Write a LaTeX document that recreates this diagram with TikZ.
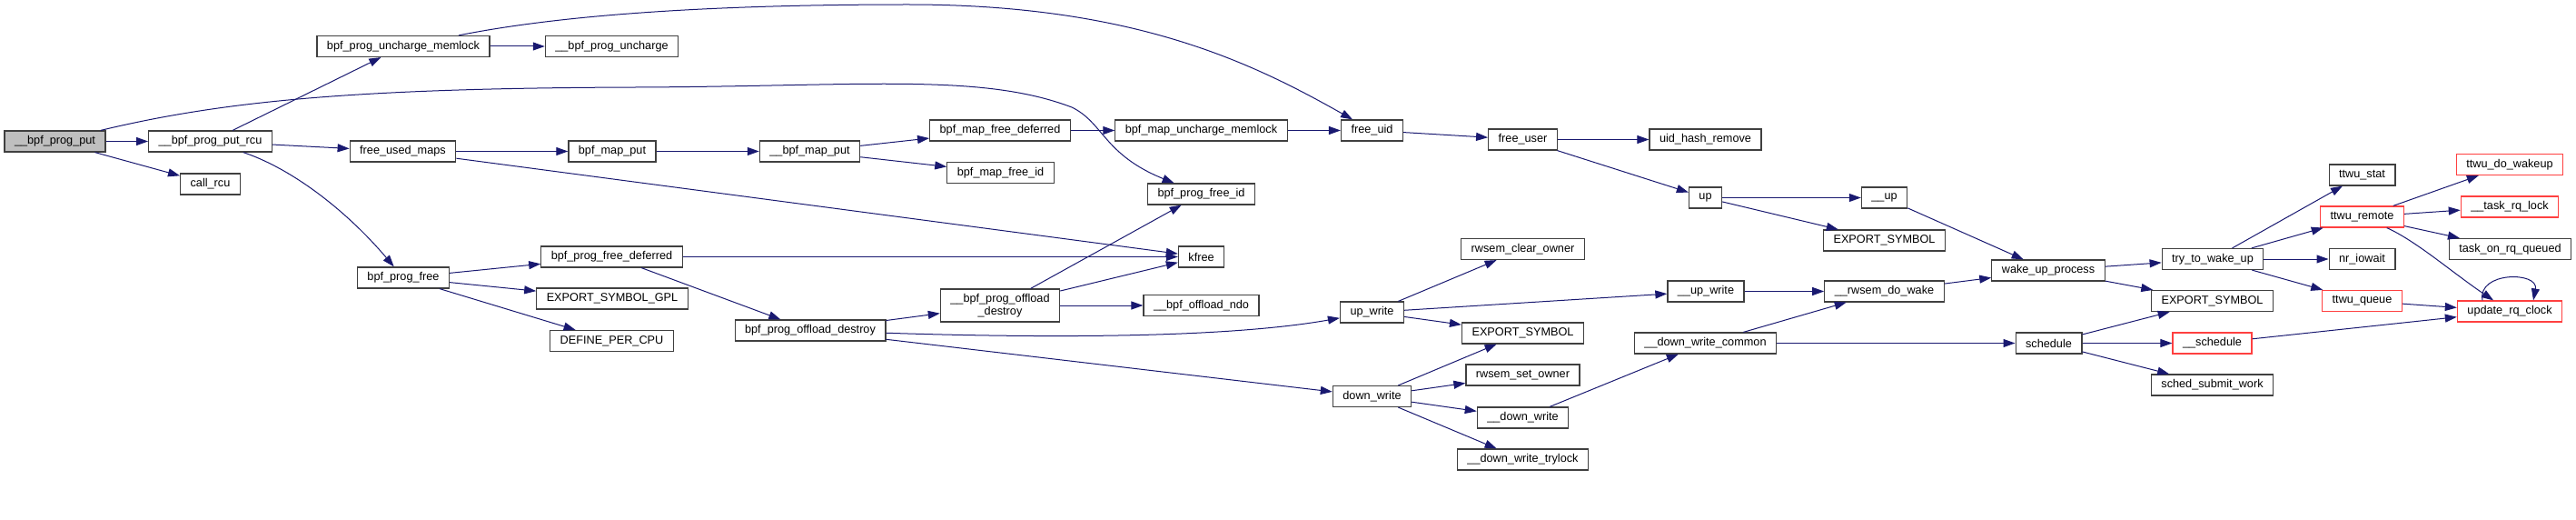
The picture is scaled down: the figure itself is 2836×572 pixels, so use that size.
\documentclass[tikz,border=0pt]{standalone}
\usepackage{fontspec}
\setmainfont{Liberation Sans}
\usepackage{tikz}
\usetikzlibrary{arrows.meta}
\usepackage{xcolor}
\definecolor{edgeblue}{RGB}{25,25,112}
\definecolor{boxgray}{RGB}{64,64,64}
\definecolor{rootgray}{RGB}{191,191,191}
\definecolor{boxred}{RGB}{255,64,64}

\begin{document}
\begin{tikzpicture}[x=1pt, y=-1pt,
    fn/.style={rectangle, draw=boxgray, line width=1.2pt, minimum height=23pt,
               inner xsep=11pt, inner ysep=0pt, font=\fontsize{12.7}{14}\selectfont},
    root/.style={fn, fill=rootgray},
    trunc/.style={fn, draw=boxred},
    edge/.style={-{Triangle[length=13pt,width=9pt]}, edgeblue, line width=1pt}]

    \useasboundingbox (0,0) rectangle (2836,572);

    % Caller
    \node[root] (put) at (60.5,155.5) {\_\_bpf\_prog\_put};
    % Level 1
    \node[fn] (putrcu) at (231.5,155.5) {\_\_bpf\_prog\_put\_rcu};
    \node[fn] (callrcu) at (231.5,202.5) {call\_rcu};
    % Level 2
    \node[fn] (uncharge) at (444,51) {bpf\_prog\_uncharge\_memlock};
    \node[fn] (freemaps) at (443.5,166.5) {free\_used\_maps};
    \node[fn] (progfree) at (444,305.5) {bpf\_prog\_free};
    % Level 3
    \node[fn] (puncharge) at (673.5,51) {\_\_bpf\_prog\_uncharge};
    \node[fn] (mapput) at (674,166.5) {bpf\_map\_put};
    \node[fn] (freedeferred) at (673.5,282.5) {bpf\_prog\_free\_deferred};
    \node[fn] (exsymgpl) at (674,328.5) {EXPORT\_SYMBOL\_GPL};
    \node[fn] (percpu) at (673.5,375) {DEFINE\_PER\_CPU};
    % Level 4
    \node[fn] (umapput) at (891.5,166.5) {\_\_bpf\_map\_put};
    \node[fn] (offdestroy) at (892,363.5) {bpf\_prog\_offload\_destroy};
    % Level 5
    \node[fn] (mapfreedef) at (1101,143.5) {bpf\_map\_free\_deferred};
    \node[fn] (mapfreeid) at (1101.5,190) {bpf\_map\_free\_id};
    \node[fn, align=center, minimum height=36pt] (uoffdestroy) at (1101,336) {\_\_bpf\_prog\_offload\\\_destroy};
    % Level 6
    \node[fn] (mapuncharge) at (1322.5,143.5) {bpf\_map\_uncharge\_memlock};
    \node[fn] (progfreeid) at (1322.5,213.5) {bpf\_prog\_free\_id};
    \node[fn] (kfree) at (1322.5,282.5) {kfree};
    \node[fn] (offndo) at (1322.5,336) {\_\_bpf\_offload\_ndo};
    % Level 7
    \node[fn] (freeuid) at (1510.5,143.5) {free\_uid};
    \node[fn] (upwrite) at (1510.5,343.5) {up\_write};
    \node[fn] (downwrite) at (1510.5,436) {down\_write};
    % Level 8
    \node[fn] (freeuser) at (1676.5,153.5) {free\_user};
    \node[fn] (rwclear) at (1676.5,274) {rwsem\_clear\_owner};
    \node[fn] (exsyma) at (1676.5,366.5) {EXPORT\_SYMBOL};
    \node[fn] (rwset) at (1676.5,412.5) {rwsem\_set\_owner};
    \node[fn] (udownwrite) at (1676.5,459.5) {\_\_down\_write};
    \node[fn] (trylock) at (1676.5,505.5) {\_\_down\_write\_trylock};
    % Level 9
    \node[fn] (uidremove) at (1877.5,153.5) {uid\_hash\_remove};
    \node[fn] (up) at (1877.5,217.5) {up};
    \node[fn] (uupwrite) at (1878,320.5) {\_\_up\_write};
    \node[fn] (downcommon) at (1877.5,377.5) {\_\_down\_write\_common};
    % Level 10
    \node[fn] (uup) at (2074.5,217.5) {\_\_up};
    \node[fn] (exsymb) at (2074.5,264.5) {EXPORT\_SYMBOL};
    \node[fn] (dowake) at (2074.5,320.5) {\_\_rwsem\_do\_wake};
    % Level 11
    \node[fn] (wakeup) at (2255,297.5) {wake\_up\_process};
    \node[fn] (schedule) at (2255.5,377.5) {schedule};
    % Level 12
    \node[fn] (ttwu) at (2436,285) {try\_to\_wake\_up};
    \node[fn] (exsymc) at (2435.5,331) {EXPORT\_SYMBOL};
    \node[trunc] (uschedule) at (2435.5,377.5) {\_\_schedule};
    \node[fn] (submit) at (2435.5,423.5) {sched\_submit\_work};
    % Level 13
    \node[fn] (stat) at (2600.5,192.5) {ttwu\_stat};
    \node[trunc] (remote) at (2600.5,238.5) {ttwu\_remote};
    \node[fn] (iowait) at (2600.5,285) {nr\_iowait};
    \node[trunc] (queue) at (2600.5,331) {ttwu\_queue};
    % Level 14
    \node[trunc] (dowakeup) at (2763,181) {ttwu\_do\_wakeup};
    \node[trunc] (rqlock) at (2763,227.5) {\_\_task\_rq\_lock};
    \node[fn] (onrq) at (2763.5,274) {task\_on\_rq\_queued};
    \node[trunc] (clock) at (2763,342.5) {update\_rq\_clock};

    % straight calls
    \foreach \a/\b in {put/putrcu, put/callrcu, putrcu/uncharge, putrcu/freemaps,
        uncharge/puncharge, freemaps/mapput, freemaps/kfree, mapput/umapput,
        umapput/mapfreedef, umapput/mapfreeid, mapfreedef/mapuncharge,
        mapuncharge/freeuid, progfree/freedeferred, progfree/exsymgpl,
        progfree/percpu, freedeferred/kfree, freedeferred/offdestroy,
        offdestroy/uoffdestroy, offdestroy/downwrite, uoffdestroy/progfreeid,
        uoffdestroy/kfree, uoffdestroy/offndo, freeuid/freeuser,
        freeuser/uidremove, freeuser/up, up/uup, up/exsymb, uup/wakeup,
        upwrite/rwclear, upwrite/uupwrite, upwrite/exsyma, downwrite/exsyma,
        downwrite/rwset, downwrite/udownwrite, downwrite/trylock,
        udownwrite/downcommon, uupwrite/dowake, downcommon/dowake,
        downcommon/schedule, dowake/wakeup, wakeup/ttwu, wakeup/exsymc,
        schedule/exsymc, schedule/uschedule, schedule/submit, ttwu/stat,
        ttwu/remote, ttwu/iowait, ttwu/queue, remote/dowakeup, remote/rqlock,
        remote/onrq, queue/clock, uschedule/clock} {
        \draw[edge] (\a) -- (\b);
    }

    % curved calls
    \draw[edge] (put) .. controls (250,110) and (400,97) .. (700,96)
        .. controls (950,95) and (1080,80) .. (1180,118)
        .. controls (1215,135) and (1215,170) .. (progfreeid);
    \draw[edge] (uncharge) .. controls (600,20) and (750,5) .. (1000,5)
        .. controls (1250,5) and (1380,70) .. (freeuid);
    \draw[edge] (putrcu) .. controls (320,185) and (380,230) .. (progfree);
    \draw[edge] (offdestroy) .. controls (1150,372) and (1350,372) .. (upwrite);
    \draw[edge] (remote) .. controls (2660,265) and (2700,300) .. (clock);
    \draw[edge] ([xshift=-30pt]clock.north) .. controls +(-6,-32) and +(6,-32) .. ([xshift=26pt]clock.north);
\end{tikzpicture}
\end{document}
